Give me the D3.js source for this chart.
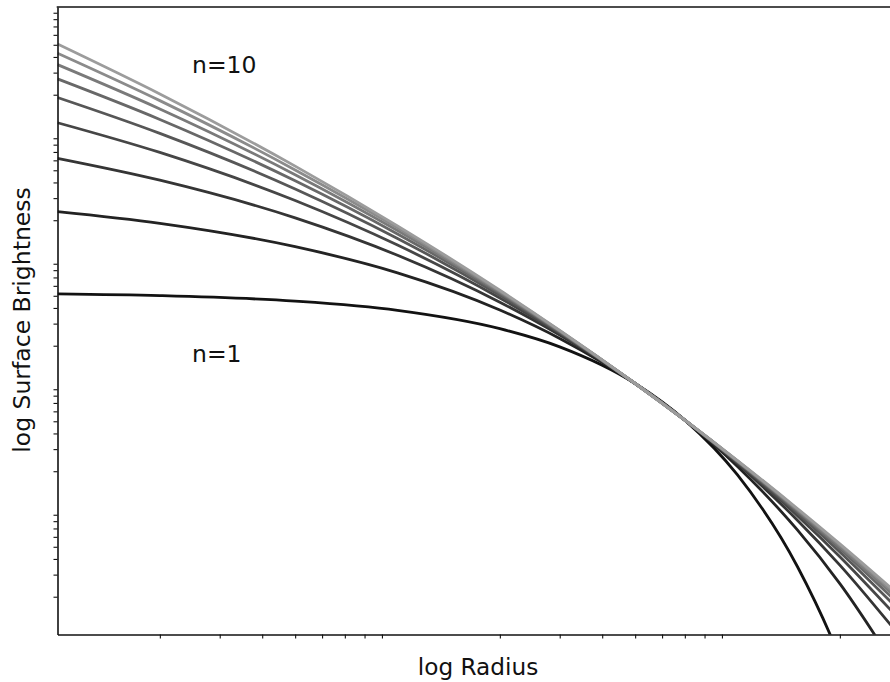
<!DOCTYPE html>
<html>
<head>
<meta charset="utf-8">
<script src="https://cdn.jsdelivr.net/npm/d3@7"></script>
<style>
  body { margin: 0; background: #fff; }
  svg { display: block; font-family: "DejaVu Sans", sans-serif; }
</style>
</head>
<body>
<svg id="chart" width="890" height="682"></svg>
<script>
var radii = [0.1, 0.2, 0.5, 1, 2, 3, 5, 7, 10, 15, 20, 30];

// log10 surface brightness for each profile, read at the radii above
var logI_n1 = [0.714, 0.700, 0.656, 0.583, 0.437, 0.292, 0, -0.292, -0.729, -1.458, -2.187, -3.645];
var logI_n2 = [1.369, 1.276, 1.090, 0.882, 0.586, 0.359, 0, -0.292, -0.661, -1.167, -1.595, -2.312];
var logI_n3 = [1.794, 1.620, 1.320, 1.022, 0.648, 0.386, 0, -0.292, -0.640, -1.089, -1.447, -2.012];
var logI_n4 = [2.078, 1.841, 1.458, 1.103, 0.682, 0.399, 0, -0.292, -0.630, -1.053, -1.380, -1.882];
var logI_n5 = [2.279, 1.993, 1.550, 1.156, 0.703, 0.408, 0, -0.292, -0.624, -1.032, -1.342, -1.810];
var logI_n6 = [2.427, 2.104, 1.615, 1.192, 0.718, 0.414, 0, -0.292, -0.621, -1.018, -1.317, -1.764];
var logI_n7 = [2.541, 2.188, 1.664, 1.219, 0.728, 0.418, 0, -0.292, -0.618, -1.009, -1.300, -1.732];
var logI_n8 = [2.632, 2.254, 1.702, 1.240, 0.736, 0.421, 0, -0.292, -0.616, -1.002, -1.287, -1.708];
var logI_n9 = [2.705, 2.307, 1.732, 1.256, 0.743, 0.423, 0, -0.292, -0.614, -0.996, -1.278, -1.690];

var profiles = [logI_n1, logI_n2, logI_n3, logI_n4, logI_n5, logI_n6, logI_n7, logI_n8, logI_n9];

// axis limits and minor tick marks (no labels on either axis)
var xDomain = [0.1, 100];
var yDomain = [0.01, 1000];
var xMinorTicks = [];
var yMinorTicks = [];
[-1, 0, 1].forEach(function (d) {
  for (var k = 2; k <= 9; k++) xMinorTicks.push(k * Math.pow(10, d));
});
[-2, -1, 0, 1, 2].forEach(function (d) {
  for (var k = 2; k <= 9; k++) yMinorTicks.push(k * Math.pow(10, d));
});

var svg = d3.select('#chart');
var plotLeft = 57.5, plotTop = 7, plotBottom = 634.5, decade = 340;

var x = d3.scaleLog().domain(xDomain).range([plotLeft, plotLeft + 3 * decade]);
var y = d3.scaleLog().domain(yDomain).range([plotBottom, plotTop]);
var grey = d3.scaleLinear().domain([0, profiles.length - 1]).range(['#121212', '#9c9c9c']);

svg.append('defs').append('clipPath').attr('id', 'plotclip')
  .append('rect')
  .attr('x', plotLeft).attr('y', plotTop)
  .attr('width', 890 - plotLeft).attr('height', plotBottom - plotTop);

var line = d3.line()
  .x(function (d) { return x(d[0]); })
  .y(function (d) { return y(Math.pow(10, d[1])); })
  .curve(d3.curveMonotoneX);

svg.append('g')
  .attr('clip-path', 'url(#plotclip)')
  .selectAll('path')
  .data(profiles)
  .enter()
  .append('path')
  .attr('d', function (vals) {
    return line(vals.map(function (v, i) { return [radii[i], v]; }));
  })
  .attr('fill', 'none')
  .attr('stroke', function (vals, i) { return grey(i); })
  .attr('stroke-width', 2.8)
  .attr('stroke-linecap', 'butt');

// axes
var xAxis = svg.append('g')
  .attr('transform', 'translate(0,' + plotBottom + ')')
  .call(d3.axisBottom(x).tickValues(xMinorTicks).tickFormat('').tickSize(4).tickSizeOuter(0));
var yAxis = svg.append('g')
  .attr('transform', 'translate(' + plotLeft + ',0)')
  .call(d3.axisLeft(y).tickValues(yMinorTicks).tickFormat('').tickSize(4).tickSizeOuter(0));

[xAxis, yAxis].forEach(function (g) {
  g.select('.domain').attr('stroke', '#111').attr('stroke-width', 1.6);
  g.selectAll('.tick line').attr('stroke', '#111').attr('stroke-width', 1.1);
});

svg.append('line')
  .attr('x1', plotLeft - 0.8).attr('x2', 890)
  .attr('y1', plotTop).attr('y2', plotTop)
  .attr('stroke', '#111').attr('stroke-width', 1.6);

// labels
svg.append('text')
  .attr('x', 192).attr('y', 73)
  .attr('font-size', 23.5)
  .attr('fill', '#111')
  .text('n=10');
svg.append('text')
  .attr('x', 192).attr('y', 362)
  .attr('font-size', 23.5)
  .attr('fill', '#111')
  .text('n=1');

svg.append('text')
  .attr('x', 478).attr('y', 675)
  .attr('text-anchor', 'middle')
  .attr('font-size', 23.2)
  .attr('fill', '#111')
  .text('log Radius');

svg.append('text')
  .attr('transform', 'translate(30,320) rotate(-90)')
  .attr('text-anchor', 'middle')
  .attr('font-size', 23.5)
  .attr('fill', '#111')
  .text('log Surface Brightness');
</script>
</body>
</html>
